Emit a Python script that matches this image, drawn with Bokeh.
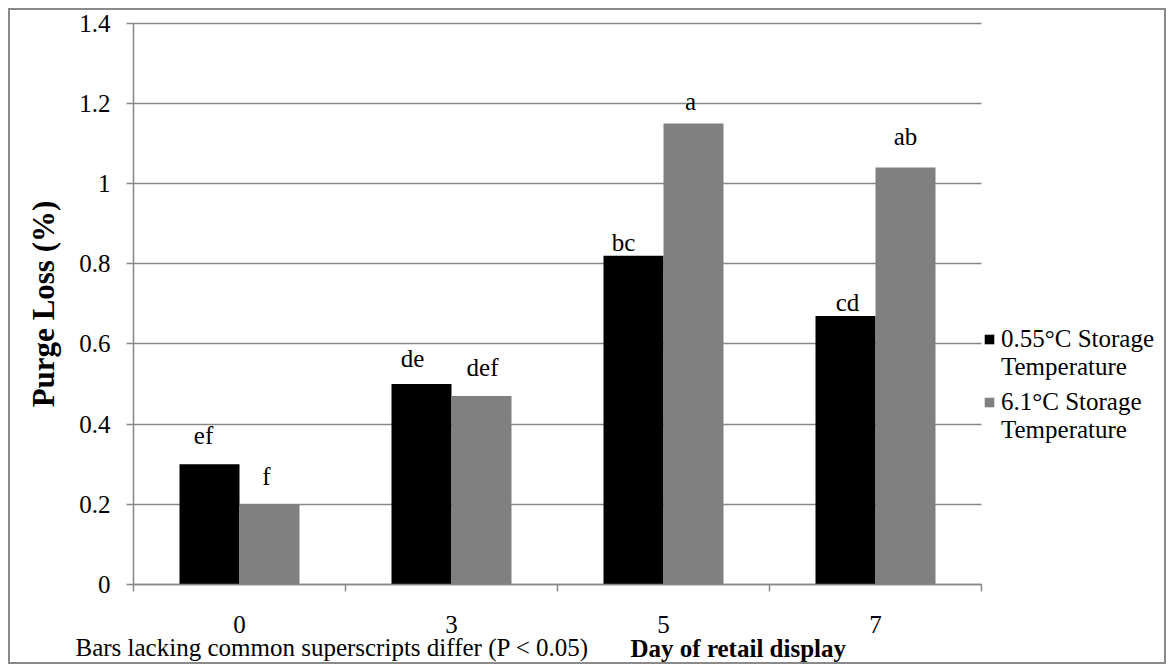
from bokeh.plotting import figure
from bokeh.models import (Range1d, FixedTicker, CustomJSTickFormatter, Legend, LegendItem,
                          Label, ColumnDataSource)
from bokeh.core.properties import value
from bokeh.embed import file_html
from bokeh.resources import INLINE

# ---- data ----
days = ["0", "3", "5", "7"]
cold_loss = [0.30, 0.50, 0.82, 0.67]     # 0.55°C storage
warm_loss = [0.20, 0.47, 1.15, 1.04]     # 6.1°C storage
cold_letters = ["ef", "de", "bc", "cd"]
warm_letters = ["f", "def", "a", "ab"]
y_ticks = [0, 0.2, 0.4, 0.6, 0.8, 1.0, 1.2, 1.4]
cold_name = ["0.55°C Storage", "Temperature"]
warm_name = ["6.1°C Storage", "Temperature"]
x_title = "Day of retail display"
y_title = "Purge Loss (%)"
note = "Bars lacking common superscripts differ (P < 0.05)"

# ---- styling / layout ----
FONT = "Liberation Serif"
FS = "25px"
GRID = "#878787"
BAR_W = 0.283
W, H = 1158, 656            # canvas size
AX_LEFT = 123               # canvas x of the value axis
AX_ZERO = 574               # canvas y of the category axis
PX_X = 212.0                # pixels per category
PX_Y = 400.93               # pixels per unit of purge loss
cold_dx = [-6, -9, -10, 2]
cold_dy = [29, 26, 13, 13]
warm_dx = [-3, 1, -3, 0]
warm_dy = [28, 29, 22, 31]

n = len(days)
centers = [i + 0.5 for i in range(n)]
bounds = list(range(n + 1))

p = figure(width=W, height=H, output_backend="svg", toolbar_location=None,
           x_range=Range1d(-AX_LEFT / PX_X, (W - AX_LEFT) / PX_X),
           y_range=Range1d(-(H - AX_ZERO) / PX_Y, AX_ZERO / PX_Y),
           min_border_left=0, min_border_right=0, min_border_top=0, min_border_bottom=0)
p.styles = {"border": "2px solid #8a8a8a", "margin": "8px"}
p.outline_line_color = None
p.background_fill_color = "white"
p.border_fill_color = "white"

cold_src = ColumnDataSource(dict(x=[c - BAR_W / 2 for c in centers], top=cold_loss,
                                 lab=cold_letters, dx=cold_dx, dy=[-d for d in cold_dy]))
warm_src = ColumnDataSource(dict(x=[c + BAR_W / 2 for c in centers], top=warm_loss,
                                 lab=warm_letters, dx=warm_dx, dy=[-d for d in warm_dy]))

rc = p.vbar(x="x", top="top", width=BAR_W, source=cold_src, fill_color="black", line_color=None)
rw = p.vbar(x="x", top="top", width=BAR_W, source=warm_src, fill_color="#808080", line_color=None)

for src in (cold_src, warm_src):
    p.text(x="x", y="top", text="lab", x_offset="dx", y_offset="dy", source=src,
           text_font=value(FONT), text_font_size=FS, text_align="center",
           text_baseline="alphabetic", text_color="black")

# grid
p.xgrid.visible = False
p.ygrid.grid_line_color = GRID
p.ygrid.grid_line_width = 1.5
p.ygrid.cross_bounds = (0, n)

# y axis
yax = p.yaxis[0]
yax.fixed_location = 0
yax.bounds = (y_ticks[0], y_ticks[-1])
yax.ticker = FixedTicker(ticks=y_ticks)
yax.formatter = CustomJSTickFormatter(code="return String(Math.round(tick*10)/10)")
yax.axis_label = y_title
yax.axis_label_text_font = FONT
yax.axis_label_text_font_size = "31px"
yax.axis_label_text_font_style = "bold"
yax.axis_label_text_color = "black"
yax.axis_label_standoff = 15
yax.major_label_text_font = FONT
yax.major_label_text_font_size = FS
yax.major_label_text_color = "black"
yax.major_label_standoff = 16
yax.major_tick_out = 7
yax.major_tick_in = 0
yax.minor_tick_out = 0
yax.minor_tick_in = 0
yax.axis_line_color = GRID
yax.axis_line_width = 1.5
yax.major_tick_line_color = GRID
yax.major_tick_line_width = 1.5

# x axis
xax = p.xaxis[0]
xax.fixed_location = 0
xax.bounds = (0, n)
xax.ticker = FixedTicker(ticks=centers, minor_ticks=bounds)
xax.major_label_overrides = {c: d for c, d in zip(centers, days)}
xax.major_label_text_font = FONT
xax.major_label_text_font_size = FS
xax.major_label_text_color = "black"
xax.major_label_standoff = 24
xax.major_tick_out = 0
xax.major_tick_in = 0
xax.minor_tick_out = 7
xax.minor_tick_in = 0
xax.minor_tick_line_color = GRID
xax.minor_tick_line_width = 1.5
xax.axis_line_color = GRID
xax.axis_line_width = 1.5

# bottom texts (screen units relative to the plot frame, which fills the canvas)
p.add_layout(Label(x=620, y=18, x_units="screen", y_units="screen", text=x_title,
                   text_font=FONT, text_font_size=FS, text_font_style="bold",
                   text_color="black", text_baseline="alphabetic"))
p.add_layout(Label(x=65, y=19, x_units="screen", y_units="screen", text=note,
                   text_font=FONT, text_font_size=FS, text_color="black",
                   text_baseline="alphabetic"))

# legends
blank = p.scatter(x=[], y=[], fill_alpha=0, line_alpha=0)

def make_legend(rend, names, loc):
    lg = Legend(items=[LegendItem(label=names[0], renderers=[rend]),
                       LegendItem(label=names[1], renderers=[blank])],
                location=loc, padding=0, margin=0, spacing=0, label_height=28,
                glyph_width=12, glyph_height=12, label_standoff=6,
                label_text_font=FONT, label_text_font_size=FS,
                label_text_color="black", border_line_color=None,
                background_fill_alpha=0)
    p.add_layout(lg, "center")

make_legend(rc, cold_name, (973, 285))
make_legend(rw, warm_name, (973, 222))

open("out.html", "w").write(file_html(p, INLINE))
